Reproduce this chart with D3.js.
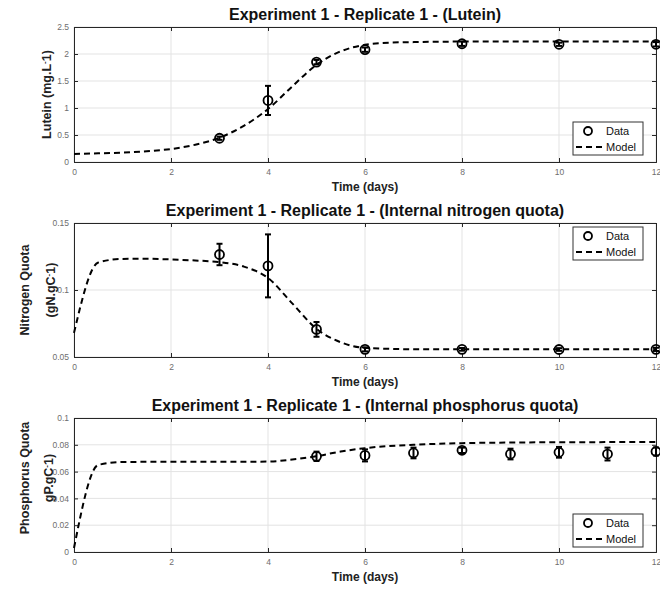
<!DOCTYPE html>
<html><head><meta charset="utf-8">
<script src="https://cdn.jsdelivr.net/npm/d3@7"></script>
<style>body{margin:0;background:#fff}svg{display:block}</style>
</head><body>
<script>
// ---- Data ----
const xTicks = [0,2,4,6,8,10,12];

const luteinDataT = [3,4,5,6,8,10,12];
const luteinDataV = [0.44,1.14,1.85,2.08,2.19,2.18,2.18];
const luteinDataE = [0.03,0.27,0.04,0.04,0.04,0.03,0.04];
const luteinModelT = [0,0.5,1,1.5,2,2.5,3,3.5,4,4.5,5,5.5,6,6.5,7,8,9,10,11,12];
const luteinModelV = [0.15,0.16,0.175,0.2,0.24,0.32,0.45,0.67,0.98,1.40,1.80,2.05,2.17,2.21,2.22,2.23,2.23,2.23,2.23,2.23];
const luteinYTicks = [0,0.5,1,1.5,2,2.5];

const nitroDataT = [3,4,5,6,8,10,12];
const nitroDataV = [0.1265,0.118,0.0706,0.0557,0.0557,0.0556,0.0557];
const nitroDataE = [0.008,0.0235,0.0055,0.0015,0.001,0.001,0.0012];
const nitroModelT = [0,0.5,1,1.5,2,2.5,3,3.5,4,4.5,5,5.5,6,7,8,10,12];
const nitroModelV = [0.068,0.1205,0.1232,0.1233,0.1228,0.122,0.1208,0.1175,0.109,0.090,0.071,0.061,0.0568,0.0558,0.0557,0.0557,0.0557];
const nitroYTicks = [0.05,0.1,0.15];

const phosDataT = [5,6,7,8,9,10,11,12];
const phosDataV = [0.0714,0.0721,0.0739,0.0759,0.0731,0.0744,0.0731,0.0750];
const phosDataE = [0.0035,0.0045,0.004,0.002,0.004,0.004,0.0048,0.003];
const phosModelT = [0,0.5,1,2,3,4,4.5,5,5.5,6,7,8,9,10,11,12];
const phosModelV = [0.003,0.065,0.0672,0.0673,0.0673,0.0675,0.069,0.0715,0.075,0.0775,0.0800,0.0812,0.0817,0.0819,0.082,0.082];
const phosYTicks = [0,0.02,0.04,0.06,0.08,0.1];

const panels = [
  {title:"Experiment 1 - Replicate 1 - (Lutein)", top:27, bottom:162, ydom:[0,2.5], yticks:luteinYTicks,
   dT:luteinDataT, dV:luteinDataV, dE:luteinDataE, mT:luteinModelT, mV:luteinModelV,
   ylab:[{t:["Lutein (mg.L","-","1)"], x:47}], ylabShift:0, legendTop:122},
  {title:"Experiment 1 - Replicate 1 - (Internal nitrogen quota)", top:223, bottom:357, ydom:[0.05,0.15], yticks:nitroYTicks,
   dT:nitroDataT, dV:nitroDataV, dE:nitroDataE, mT:nitroModelT, mV:nitroModelV,
   ylab:[{t:["Nitrogen Quota"], x:25},{t:["(gN.gC","-","1)"], x:51}], ylabShift:0, legendTop:227},
  {title:"Experiment 1 - Replicate 1 - (Internal phosphorus quota)", top:418, bottom:552, ydom:[0,0.1], yticks:phosYTicks,
   dT:phosDataT, dV:phosDataV, dE:phosDataE, mT:phosModelT, mV:phosModelV,
   ylab:[{t:["Phosphorus Quota"], x:25},{t:["gP.gC","-","1)"], x:49}], ylabShift:-7, legendTop:514}
];

const W=660, H=590, L=74, R=656;
const svg = d3.select("body").append("svg").attr("width",W).attr("height",H)
  .style("font-family","Arial, 'Liberation Sans', sans-serif");

const x = d3.scaleLinear().domain([0,12]).range([L,R]);
const axisCol = "#262626", tickCol = "#6e6e6e", gridCol = "#e3e3e3";

panels.forEach(p => {
  const y = d3.scaleLinear().domain(p.ydom).range([p.bottom,p.top]);
  const g = svg.append("g");
  // grid
  g.selectAll(".gx").data(xTicks).join("line")
    .attr("x1",d=>x(d)).attr("x2",d=>x(d)).attr("y1",p.top).attr("y2",p.bottom)
    .attr("stroke",gridCol).attr("stroke-width",1);
  g.selectAll(".gy").data(p.yticks).join("line")
    .attr("x1",L).attr("x2",R).attr("y1",d=>y(d)).attr("y2",d=>y(d))
    .attr("stroke",gridCol).attr("stroke-width",1);

  // axes
  const xa = g.append("g").attr("transform",`translate(0,${p.bottom})`)
    .call(d3.axisBottom(x).tickValues(xTicks).tickSize(-4).tickPadding(7).tickFormat(d3.format("")));
  const xt = g.append("g").attr("transform",`translate(0,${p.top})`)
    .call(d3.axisTop(x).tickValues(xTicks).tickSize(-4).tickFormat(""));
  const ya = g.append("g").attr("transform",`translate(${L},0)`)
    .call(d3.axisLeft(y).tickValues(p.yticks).tickSize(-4).tickPadding(5).tickFormat(d=>String(+d.toFixed(3))));
  const yr = g.append("g").attr("transform",`translate(${R},0)`)
    .call(d3.axisRight(y).tickValues(p.yticks).tickSize(-4).tickFormat(""));
  [xa,xt,ya,yr].forEach(a=>{
    a.select(".domain").attr("stroke",axisCol).attr("stroke-width",1);
    a.selectAll(".tick line").attr("stroke",axisCol);
    a.selectAll(".tick text").attr("fill",tickCol).style("font-size","8.5px").style("font-family","Arial, 'Liberation Sans', sans-serif");
  });

  // model line
  const line = d3.line().x((d,i)=>x(p.mT[i])).y(d=>y(d)).curve(d3.curveMonotoneX);
  g.append("path").datum(p.mV).attr("d",line).attr("fill","none")
    .attr("stroke","#000").attr("stroke-width",2).attr("stroke-dasharray","6,4");

  // error bars + markers
  const pts = p.dT.map((t,i)=>({t, v:p.dV[i], e:p.dE[i]}));
  const eb = g.selectAll(".eb").data(pts).join("g");
  eb.append("line").attr("x1",d=>x(d.t)).attr("x2",d=>x(d.t))
    .attr("y1",d=>y(d.v-d.e)).attr("y2",d=>y(d.v+d.e)).attr("stroke","#000").attr("stroke-width",2);
  eb.append("line").attr("x1",d=>x(d.t)-3).attr("x2",d=>x(d.t)+3)
    .attr("y1",d=>y(d.v-d.e)).attr("y2",d=>y(d.v-d.e)).attr("stroke","#000").attr("stroke-width",2);
  eb.append("line").attr("x1",d=>x(d.t)-3).attr("x2",d=>x(d.t)+3)
    .attr("y1",d=>y(d.v+d.e)).attr("y2",d=>y(d.v+d.e)).attr("stroke","#000").attr("stroke-width",2);
  eb.append("circle").attr("cx",d=>x(d.t)).attr("cy",d=>y(d.v)).attr("r",4.5)
    .attr("fill","none").attr("stroke","#000").attr("stroke-width",1.8);

  // title
  svg.append("text").attr("x",(L+R)/2).attr("y",p.top-7).attr("text-anchor","middle")
    .style("font-size","16px").style("font-weight","bold").attr("fill","#111").text(p.title);
  // x label
  svg.append("text").attr("x",(L+R)/2).attr("y",p.bottom+29).attr("text-anchor","middle")
    .style("font-size","12px").style("font-weight","bold").attr("fill","#222").text("Time (days)");
  // y label
  const cy = (p.top+p.bottom)/2 + p.ylabShift;
  p.ylab.forEach(lb=>{
    const t = svg.append("text").attr("transform",`translate(${lb.x+4},${cy}) rotate(-90)`)
      .attr("text-anchor","middle").style("font-size","12.5px").style("font-weight","bold").attr("fill","#222");
    t.append("tspan").text(lb.t[0]);
    if (lb.t.length>1){
      t.append("tspan").attr("dy","-4").style("font-size","8px").text(lb.t[1]);
      t.append("tspan").attr("dy","4").text(lb.t[2]);
    }
  });

  // legend
  const lx=573, lw=70, lt=p.legendTop, lh=33;
  const lg = svg.append("g");
  lg.append("rect").attr("x",lx).attr("y",lt).attr("width",lw).attr("height",lh)
    .attr("fill","#fff").attr("stroke","#333").attr("stroke-width",1);
  lg.append("circle").attr("cx",lx+15).attr("cy",lt+9).attr("r",4).attr("fill","none")
    .attr("stroke","#000").attr("stroke-width",1.8);
  lg.append("text").attr("x",lx+33).attr("y",lt+13).style("font-size","11px").attr("fill","#111").text("Data");
  lg.append("line").attr("x1",lx+3).attr("x2",lx+33).attr("y1",lt+25).attr("y2",lt+25)
    .attr("stroke","#000").attr("stroke-width",2).attr("stroke-dasharray","6,4");
  lg.append("text").attr("x",lx+33).attr("y",lt+29).style("font-size","11px").attr("fill","#111").text("Model");
});
</script>
</body></html>
